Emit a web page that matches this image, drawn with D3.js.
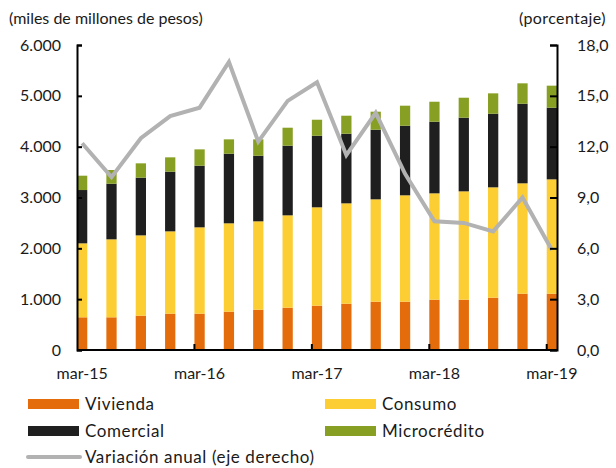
<!DOCTYPE html>
<html>
<head>
<meta charset="utf-8">
<script src="https://cdn.jsdelivr.net/npm/d3@7.9.0/dist/d3.min.js"></script>
<style>
  body { margin: 0; background: #fff; }
  svg text { font-family: Lato, "Open Sans", sans-serif; fill: #1a1a1a; }
</style>
</head>
<body>
<svg id="chart" width="616" height="468"></svg>
<script>
const periods = ['mar-15','jun-15','sep-15','dic-15','mar-16','jun-16','sep-16','dic-16',
  'mar-17','jun-17','sep-17','dic-17','mar-18','jun-18','sep-18','dic-18','mar-19'];
const vivienda = [643, 643, 675, 715, 715, 754, 793, 833, 872, 911, 951, 951, 990, 990, 1029, 1108, 1108];
const consumo = [1455, 1534, 1580, 1619, 1698, 1738, 1738, 1816, 1935, 1974, 2013, 2092, 2092, 2131, 2171, 2171, 2249];
const comercial = [1049, 1094, 1135, 1174, 1213, 1370, 1291, 1370, 1408, 1370, 1370, 1369, 1409, 1449, 1448, 1566, 1409];
const microcredito = [282, 270, 282, 282, 321, 282, 322, 354, 315, 354, 354, 394, 393, 393, 401, 401, 434];
const variacion = [12.2, 10.2, 12.5, 13.8, 14.3, 17.0, 12.3, 14.7, 15.8, 11.5, 14.0, 10.4, 7.6, 7.5, 7.0, 9.0, 5.9];
const leftTicks = [0, 1000, 2000, 3000, 4000, 5000, 6000];
const rightTicks = [0, 3, 6, 9, 12, 15, 18];
const xLabels = ['mar-15','mar-16','mar-17','mar-18','mar-19'];

const series = [
  { key: 'Vivienda', values: vivienda, color: '#E46C0A' },
  { key: 'Consumo', values: consumo, color: '#FDCD34' },
  { key: 'Comercial', values: comercial, color: '#1F1F1F' },
  { key: 'Microcrédito', values: microcredito, color: '#87A024' }
];

const svg = d3.select('#chart');
const plotL = 77, plotR = 557, plotT = 45, plotB = 350;

const x = d3.scaleBand().domain(periods).range([plotL, plotR]).paddingInner(0.65).paddingOuter(0);
const y = d3.scaleLinear().domain([0, 6000]).range([plotB, plotT]);
const y2 = d3.scaleLinear().domain([0, 18]).range([plotB, plotT]);

const fmtL = d3.formatLocale({ decimal: ',', thousands: '.', grouping: [3], currency: ['$', ''] });

// stacked bars
const rows = periods.map((p, i) => {
  const r = { period: p };
  series.forEach(s => { r[s.key] = s.values[i]; });
  return r;
});
const stack = d3.stack().keys(series.map(s => s.key))(rows);

svg.append('g').selectAll('g')
  .data(stack)
  .join('g')
  .attr('fill', (d, i) => series[i].color)
  .selectAll('rect')
  .data(d => d)
  .join('rect')
  .attr('x', d => x(d.data.period))
  .attr('width', x.bandwidth())
  .attr('y', d => y(d[1]))
  .attr('height', d => y(d[0]) - y(d[1]));

// line
const line = d3.line()
  .x((d, i) => x(periods[i]) + x.bandwidth() / 2)
  .y(d => y2(d));
svg.append('path')
  .datum(variacion)
  .attr('d', line)
  .attr('fill', 'none')
  .attr('stroke', '#B2B2B2')
  .attr('stroke-width', 4)
  .attr('stroke-linejoin', 'miter');

// axes
const axisL = d3.axisLeft(y).tickValues(leftTicks).tickSize(-5).tickPadding(16)
  .tickFormat(d => d === 0 ? '0' : fmtL.format(',')(d));
const gL = svg.append('g').attr('transform', `translate(${plotL},0)`).call(axisL);

const axisR = d3.axisRight(y2).tickValues(rightTicks).tickSize(-7).tickPadding(20)
  .tickFormat(d => fmtL.format('.1f')(d));
const gR = svg.append('g').attr('transform', `translate(${plotR},0)`).call(axisR);

const axisB = d3.axisBottom(x).tickValues(xLabels).tickSize(0).tickPadding(18);
const gB = svg.append('g').attr('transform', `translate(0,${plotB})`).call(axisB);

[gL, gR, gB].forEach(g => {
  g.select('.domain').attr('stroke', '#000').attr('stroke-width', 2);
  g.selectAll('.tick line').attr('stroke', '#000').attr('stroke-width', 2);
  g.selectAll('text').attr('font-size', 16).attr('fill', '#1a1a1a')
    .style('font-family', 'Lato, sans-serif');
});
gB.select('.domain').attr('d', `M${plotL},0H${plotR}`);

// bottom ticks at left edge of year bars
svg.append('g').selectAll('line')
  .data(xLabels.slice(1))
  .join('line')
  .attr('x1', d => x(d)).attr('x2', d => x(d))
  .attr('y1', plotB).attr('y2', plotB - 6)
  .attr('stroke', '#000').attr('stroke-width', 2);

// axis titles
svg.append('text').attr('x', 9).attr('y', 24).attr('font-size', 16)
  .text('(miles de millones de pesos)');
svg.append('text').attr('x', 606).attr('y', 24).attr('font-size', 16)
  .attr('letter-spacing', 0.4).attr('text-anchor', 'end').text('(porcentaje)');

// legend
const legendItems = [
  { label: 'Vivienda', color: '#E46C0A', x: 28, y: 404, type: 'rect' },
  { label: 'Consumo', color: '#FDCD34', x: 325, y: 404, type: 'rect' },
  { label: 'Comercial', color: '#1F1F1F', x: 28, y: 431, type: 'rect' },
  { label: 'Microcrédito', color: '#87A024', x: 325, y: 431, type: 'rect' },
  { label: 'Variación anual (eje derecho)', color: '#B2B2B2', x: 28, y: 457, type: 'line' }
];
const lg = svg.append('g').selectAll('g').data(legendItems).join('g')
  .attr('transform', d => `translate(${d.x},${d.y})`);
lg.filter(d => d.type === 'rect').append('rect')
  .attr('x', 0).attr('y', -5).attr('width', 51).attr('height', 10).attr('fill', d => d.color);
lg.filter(d => d.type === 'line').append('line')
  .attr('x1', 0).attr('x2', 52).attr('y1', 0).attr('y2', 0)
  .attr('stroke', d => d.color).attr('stroke-width', 4).attr('stroke-linecap', 'round');
lg.append('text').attr('x', 57).attr('y', 6).attr('font-size', 17)
  .attr('letter-spacing', 0.6).text(d => d.label);
</script>
</body>
</html>
